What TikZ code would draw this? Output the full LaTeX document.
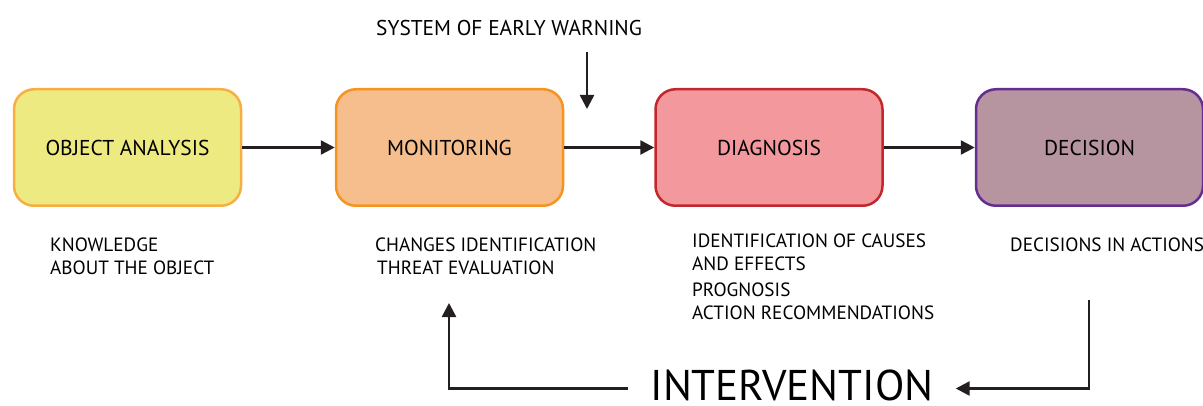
\documentclass[tikz,border=0pt]{standalone}
\usepackage{fontspec}
\setmainfont{PT Sans}
\usepackage{tikz}
\usetikzlibrary{arrows.meta, positioning, calc}
\definecolor{objfill}{HTML}{EDEA82}
\definecolor{objdraw}{HTML}{F9AE40}
\definecolor{monfill}{HTML}{F5BE8C}
\definecolor{mondraw}{HTML}{F7941E}
\definecolor{diagfill}{HTML}{F3999D}
\definecolor{diagdraw}{HTML}{C1272D}
\definecolor{decfill}{HTML}{B695A0}
\definecolor{decdraw}{HTML}{662D91}
\definecolor{inkdark}{HTML}{231F20}

\begin{document}
\begin{tikzpicture}[
    box/.style={rectangle, draw, rounded corners=20pt, line width=2.5pt, minimum width=227pt, minimum height=116.5pt, align=center, font=\fontsize{21.5}{24}\selectfont},
    arrow/.style={-{Triangle[length=14pt, width=14pt]}, line width=2.5pt, inkdark},
    desc/.style={anchor=north west, inner sep=0pt, align=left, font=\fontsize{19.2}{22.8}\selectfont}
]
\useasboundingbox (0,0) rectangle (1203pt,405pt);

% Main stages
\node[box, fill=objfill, draw=objdraw] (obj) at (127.5pt,257.5pt) {\raisebox{-2.5pt}{OBJECT ANALYSIS}};
\node[box, fill=monfill, draw=mondraw, right=92.5pt of obj] (mon) {\raisebox{-2.5pt}{MONITORING}};
\node[box, fill=diagfill, draw=diagdraw, right=90pt of mon] (diag) {\raisebox{-2.5pt}{DIAGNOSIS}};
\node[box, fill=decfill, draw=decdraw, right=91pt of diag] (dec) {\raisebox{-2.5pt}{DECISION}};

% Arrows between stages
\draw[arrow] (obj) -- (mon);
\draw[arrow] (mon) -- (diag);
\draw[arrow] (diag) -- (dec);

% Early warning
\node[font=\fontsize{21.4}{24}\selectfont, anchor=west, inner sep=0pt] (warn) at (376pt,377pt) {SYSTEM OF EARLY WARNING};
\coordinate (warnfrom) at (587pt,353pt);
\coordinate (warnto) at (587pt,296pt);
\draw[arrow] (warnfrom) -- (warnto);

% Descriptions
\node[desc] (objtxt) at (50pt,167pt) {KNOWLEDGE\\ABOUT THE OBJECT};
\node[desc] (montxt) at (375pt,167pt) {CHANGES IDENTIFICATION\\\hspace{2pt}THREAT EVALUATION};
\node[desc] (diagtxt) at (692pt,171pt) {IDENTIFICATION OF CAUSES\\AND EFFECTS\\[3pt]PROGNOSIS\\ACTION RECOMMENDATIONS};
\node[desc] (dectxt) at (1010pt,167pt) {DECISIONS IN ACTIONS};

% Feedback loop
\node[font=\fontsize{43}{46}\selectfont, inner xsep=22pt, inner ysep=0pt] (inter) at (792pt,19.5pt) {INTERVENTION};
\coordinate (decback) at (1089pt,105pt);
\coordinate (monback) at (449pt,102pt);
\draw[arrow] (decback) |- ([yshift=-3pt]inter.east);
\draw[arrow] ([yshift=-3pt]inter.west) -| (monback);

\end{tikzpicture}
\end{document}
